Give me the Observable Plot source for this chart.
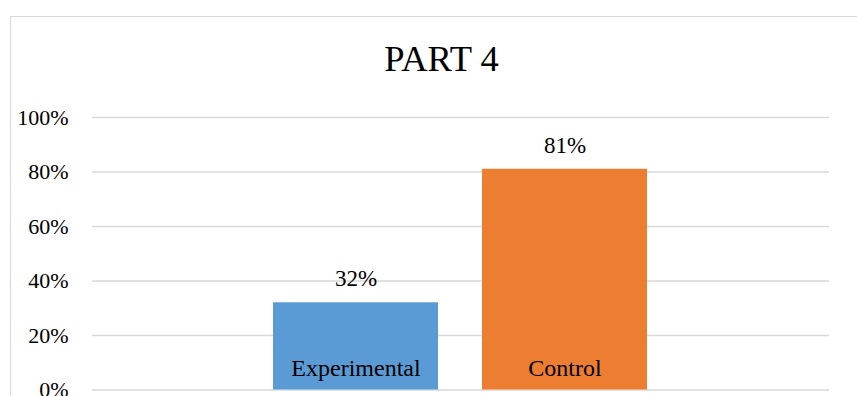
<!DOCTYPE html>
<html>
<head>
<meta charset="utf-8">
<script src="https://cdn.jsdelivr.net/npm/d3@7"></script>
<script src="https://cdn.jsdelivr.net/npm/@observablehq/plot@0.6"></script>
<style>
  html, body { margin: 0; padding: 0; background: #fff; width: 857px; height: 396px; overflow: hidden; position: relative; }
  #frame { position: absolute; left: 9.5px; top: 16px; width: 900px; height: 500px; border: 1.5px solid #D9D9D9; box-sizing: border-box; }
  #title { position: absolute; left: 0; top: 41px; width: 883px; text-align: center; font: 36.5px "Liberation Serif", "Times New Roman", serif; line-height: 36.5px; color: #000; }
  #chart { position: absolute; left: 0; top: 0; }
</style>
</head>
<body>
<div id="frame"></div>
<div id="title">PART 4</div>
<div id="chart"></div>
<script>
const categories = ["Experimental", "Control"];
const values = [0.32, 0.81];
const colors = ["#5B9BD5", "#ED7D31"];
const yTicks = [0, 0.2, 0.4, 0.6, 0.8, 1.0];

const data = categories.map((c, i) => ({category: c, value: values[i]}));

const chart = Plot.plot({
  width: 857,
  height: 396,
  marginLeft: 92,
  marginRight: 28,
  marginTop: 117,
  marginBottom: 6.5,
  style: {fontFamily: '"Liberation Serif", "Times New Roman", serif', fontSize: "22px", color: "#000", background: "transparent", overflow: "visible"},
  x: {domain: categories, range: [273, 648], paddingInner: 0.21, paddingOuter: 0, axis: null},
  y: {domain: [0, 1], ticks: yTicks, tickFormat: d3.format(".0%"), label: null},
  color: {domain: categories, range: colors},
  marks: [
    Plot.ruleY(yTicks, {stroke: "#D9D9D9", strokeWidth: 1.4}),
    Plot.barY(data, {x: "category", y: "value", fill: "category"}),
    Plot.axisY({ticks: yTicks, tickFormat: d3.format(".0%"), tickSize: 0, tickPadding: 24, fontSize: 22, fill: "#000", label: null}),
    Plot.text(data, {x: "category", y: "value", text: d => d3.format(".0%")(d.value), dy: -23.9, fill: "#000", fontSize: 23}),
    Plot.text(data, {x: "category", y: 0, text: "category", dy: -21.2, fill: "#000", fontSize: 24})
  ]
});
document.getElementById("chart").appendChild(chart);
</script>
</body>
</html>
